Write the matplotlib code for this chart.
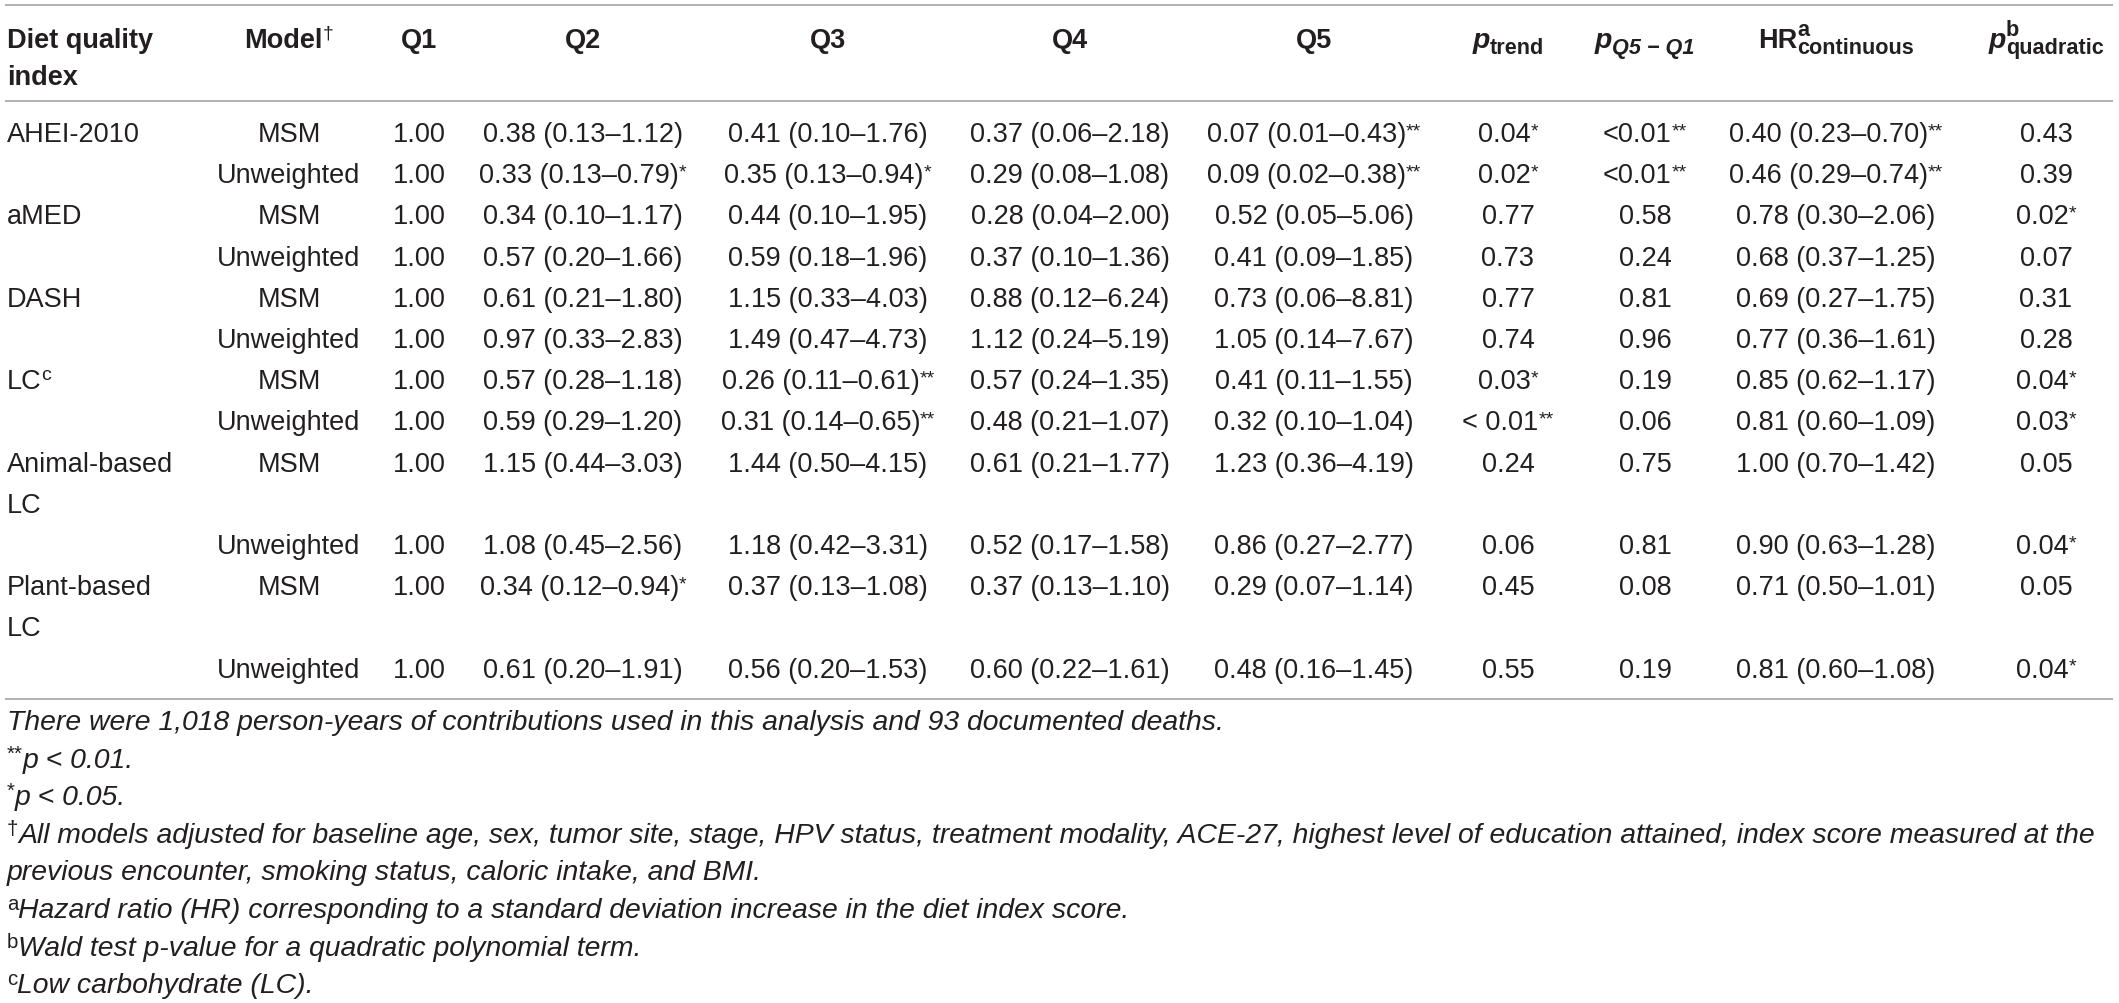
import matplotlib.pyplot as plt

plt.rcParams['font.family'] = ['Liberation Sans', 'DejaVu Sans']

# ---- table data ----
index_names = [['AHEI-2010'], ['aMED'], ['DASH'], ['LC'], ['Animal-based', 'LC'], ['Plant-based', 'LC']]
index_sup = ['', '', '', 'c', '', '']
models = ['MSM', 'Unweighted']
q1 = ['1.00'] * 12
q2 = ['0.38 (0.13–1.12)', '0.33 (0.13–0.79)*', '0.34 (0.10–1.17)', '0.57 (0.20–1.66)',
      '0.61 (0.21–1.80)', '0.97 (0.33–2.83)', '0.57 (0.28–1.18)', '0.59 (0.29–1.20)',
      '1.15 (0.44–3.03)', '1.08 (0.45–2.56)', '0.34 (0.12–0.94)*', '0.61 (0.20–1.91)']
q3 = ['0.41 (0.10–1.76)', '0.35 (0.13–0.94)*', '0.44 (0.10–1.95)', '0.59 (0.18–1.96)',
      '1.15 (0.33–4.03)', '1.49 (0.47–4.73)', '0.26 (0.11–0.61)**', '0.31 (0.14–0.65)**',
      '1.44 (0.50–4.15)', '1.18 (0.42–3.31)', '0.37 (0.13–1.08)', '0.56 (0.20–1.53)']
q4 = ['0.37 (0.06–2.18)', '0.29 (0.08–1.08)', '0.28 (0.04–2.00)', '0.37 (0.10–1.36)',
      '0.88 (0.12–6.24)', '1.12 (0.24–5.19)', '0.57 (0.24–1.35)', '0.48 (0.21–1.07)',
      '0.61 (0.21–1.77)', '0.52 (0.17–1.58)', '0.37 (0.13–1.10)', '0.60 (0.22–1.61)']
q5 = ['0.07 (0.01–0.43)**', '0.09 (0.02–0.38)**', '0.52 (0.05–5.06)', '0.41 (0.09–1.85)',
      '0.73 (0.06–8.81)', '1.05 (0.14–7.67)', '0.41 (0.11–1.55)', '0.32 (0.10–1.04)',
      '1.23 (0.36–4.19)', '0.86 (0.27–2.77)', '0.29 (0.07–1.14)', '0.48 (0.16–1.45)']
p_trend = ['0.04*', '0.02*', '0.77', '0.73', '0.77', '0.74', '0.03*', '< 0.01**',
           '0.24', '0.06', '0.45', '0.55']
p_q5q1 = ['<0.01**', '<0.01**', '0.58', '0.24', '0.81', '0.96', '0.19', '0.06',
          '0.75', '0.81', '0.08', '0.19']
hr_cont = ['0.40 (0.23–0.70)**', '0.46 (0.29–0.74)**', '0.78 (0.30–2.06)', '0.68 (0.37–1.25)',
           '0.69 (0.27–1.75)', '0.77 (0.36–1.61)', '0.85 (0.62–1.17)', '0.81 (0.60–1.09)',
           '1.00 (0.70–1.42)', '0.90 (0.63–1.28)', '0.71 (0.50–1.01)', '0.81 (0.60–1.08)']
p_quad = ['0.43', '0.39', '0.02*', '0.07', '0.31', '0.28', '0.04*', '0.03*',
          '0.05', '0.04*', '0.05', '0.04*']

footnotes = [
    ('', 'There were 1,018 person-years of contributions used in this analysis and 93 documented deaths.'),
    ('**', 'p < 0.01.'),
    ('*', 'p < 0.05.'),
    ('†', 'All models adjusted for baseline age, sex, tumor site, stage, HPV status, treatment modality, '
          'ACE-27, highest level of education attained, index score measured at the'),
    ('', 'previous encounter, smoking status, caloric intake, and BMI.'),
    ('a', 'Hazard ratio (HR) corresponding to a standard deviation increase in the diet index score.'),
    ('b', 'Wald test p-value for a quadratic polynomial term.'),
    ('c', 'Low carbohydrate (LC).'),
]

# ---- layout ----
W, H = 2119, 1004
FS = 19.5
FS_NOTE = 20.4
INK = '#231f20'
RULE = '#b0b0b0'
col_x = [419, 583, 828, 1070, 1314, 1508, 1645, 1836, 2046]
model_x = 289
left_x = 7
row0, pitch = 132, 41.2

fig = plt.figure(figsize=(W / 100, H / 100), dpi=100)
ax = fig.add_axes([0, 0, 1, 1])
ax.set_xlim(0, W)
ax.set_ylim(H, 0)
ax.axis('off')
renderer = fig.canvas.get_renderer()


def text_w(s, size, weight, style):
    t = ax.text(0, 0, s, fontsize=size, fontweight=weight, fontstyle=style)
    w = t.get_window_extent(renderer).width
    t.remove()
    return w


def rich(x, y, segs, ha='center', base=FS):
    # segs: list of segments; each segment is a list of (text, scale, rise, weight, style)
    # stacked on the same x start
    widths = [max(text_w(t, base * sc, wt, st) for t, sc, r, wt, st in seg) for seg in segs]
    x0 = x - sum(widths) / 2 if ha == 'center' else x
    for seg, wd in zip(segs, widths):
        for t, sc, r, wt, st in seg:
            ax.text(x0, y - r, t, fontsize=base * sc, fontweight=wt, fontstyle=st,
                    color=INK, ha='left', va='baseline')
        x0 += wd


def cell(x, y, s):
    core = s.rstrip('*')
    stars = s[len(core):]
    segs = [[(core, 1, 0, 'normal', 'normal')]]
    if stars:
        segs.append([(stars, 0.72, 6, 'normal', 'normal')])
    rich(x, y, segs)


# rules
for yy in (6, 102, 700):
    ax.plot([5, 2113], [yy, yy], color=RULE, lw=1.4, solid_capstyle='butt')

# header
hb = 48
B, N, I = 'bold', 'normal', 'italic'
ax.text(left_x, hb, 'Diet quality', fontsize=FS, fontweight=B, color=INK, va='baseline')
ax.text(left_x, hb + 37, 'index', fontsize=FS, fontweight=B, color=INK, va='baseline')
rich(model_x, hb, [[('Model', 1, 0, B, N)], [('†', 0.72, 9, N, N)]])
for x, q in zip(col_x[:5], ['Q1', 'Q2', 'Q3', 'Q4', 'Q5']):
    rich(x, hb, [[(q, 1, 0, B, N)]])
rich(col_x[5], hb, [[('p', 1.05, 0, B, I)], [('trend', 0.8, -6, B, N)]])
rich(col_x[6], hb, [[('p', 1.05, 0, B, I)], [('Q5 − Q1', 0.8, -6, B, I)]])
rich(col_x[7], hb, [[('HR', 1, 0, B, N)],
                    [('a', 0.8, 12, B, N), ('continuous', 0.8, -6, B, N)]])
rich(col_x[8], hb, [[('p', 1.05, 0, B, I)],
                    [('b', 0.8, 12, B, N), ('quadratic', 0.8, -6, B, N)]])

# body
columns = [q1, q2, q3, q4, q5, p_trend, p_q5q1, hr_cont, p_quad]
slot = 0
for g, names in enumerate(index_names):
    for k, model in enumerate(models):
        r = 2 * g + k
        yb = row0 + pitch * slot + 10
        if k == 0:
            for j, nm in enumerate(names):
                segs = [[(nm, 1, 0, N, N)]]
                if j == len(names) - 1 and index_sup[g]:
                    segs.append([(index_sup[g], 0.72, 9, N, N)])
                rich(left_x, yb + pitch * j, segs, ha='left')
        rich(model_x, yb, [[(model, 1, 0, N, N)]])
        for x, col in zip(col_x, columns):
            cell(x, yb, col[r])
        slot += len(names) if k == 0 else 1

# footnotes
fy0, fpitch = 730, 37.6
for i, (mark, txt) in enumerate(footnotes):
    segs = []
    if mark:
        segs.append([(mark, 0.72, 8, N, N)])
    segs.append([(txt, 1, 0, N, I)])
    rich(left_x, fy0 + fpitch * i, segs, ha='left', base=FS_NOTE)

fig.savefig('out.png', dpi=100)
